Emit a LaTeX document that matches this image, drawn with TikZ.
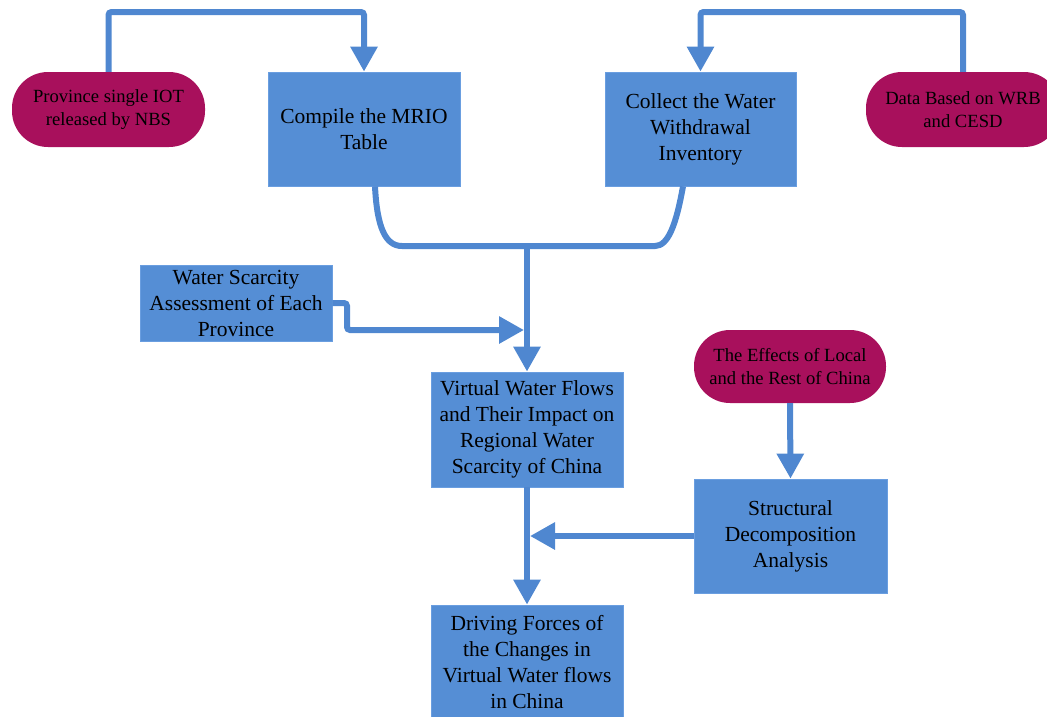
\documentclass[tikz,border=0pt]{standalone}
\usepackage{fontspec}
\setmainfont{Liberation Serif}
\usetikzlibrary{arrows.meta}
\definecolor{boxblue}{HTML}{558ED5}
\definecolor{boxedge}{HTML}{6A9EE0}
\definecolor{linkblue}{HTML}{4F87D0}
\definecolor{pillred}{HTML}{A8105C}
\tikzset{
  stepbox/.style={rectangle, fill=boxblue, draw=boxedge, line width=0.8pt, align=center, inner sep=0pt,
    font=\fontsize{21.5}{26}\selectfont},
  pillbox/.style={rectangle, rounded corners=36pt, fill=pillred, draw=none, align=center, inner sep=0pt,
    font=\fontsize{18.6}{23}\selectfont},
  conn/.style={draw=linkblue, line width=6pt, rounded corners=3pt},
  arr/.style={conn, -{Triangle[length=25pt,width=26pt]}},
}
\begin{document}
\begin{tikzpicture}[x=1pt,y=-1pt]
\useasboundingbox (0,0) rectangle (1047,716);

% nodes
\node[pillbox, minimum width=193pt, minimum height=75pt] (prov) at (108.5,109.5) {Province single IOT\\released by NBS};
\node[stepbox, minimum width=192pt, minimum height=114pt] (mrio) at (364,129) {Compile the MRIO\\Table};
\node[stepbox, minimum width=191pt, minimum height=114pt] (coll) at (700.5,129) {Collect the Water\\Withdrawal\\Inventory};
\node[pillbox, minimum width=194pt, minimum height=75pt] (data) at (963,109.5) {Data Based on WRB\\and CESD};
\node[stepbox, minimum width=192pt, minimum height=76pt] (scar) at (236,303) {Water Scarcity\\Assessment of Each\\Province};
\node[stepbox, minimum width=192pt, minimum height=115pt] (virt) at (527,429.5) {Virtual Water Flows\\and Their Impact on\\Regional Water\\Scarcity of China};
\node[pillbox, minimum width=192pt, minimum height=73pt] (eff) at (790,366.5) {The Effects of Local\\and the Rest of China};
\node[stepbox, minimum width=193pt, minimum height=114pt] (sda) at (790.5,536) {Structural\\Decomposition\\Analysis};
\node[stepbox, minimum width=192pt, minimum height=114pt] (drive) at (527,662) {Driving Forces of\\the Changes in\\Virtual Water flows\\in China};

% helper coordinates
\coordinate (t1) at (240,12);
\coordinate (t2) at (830,12);
\coordinate (ml) at (405,246);
\coordinate (mr) at (652,246);
\coordinate (m) at (527,246);
\coordinate (s1) at (347,330);
\coordinate (s2) at (524,330);
\coordinate (j) at (530,536);

% connectors
\draw[arr] (prov.north) |- (t1) -| (mrio.north);
\draw[arr] (data.north) |- (t2) -| (coll.north);
\draw[conn] ([xshift=11pt]mrio.south) .. controls +(2,40) and +(-20,0) .. (ml) -- (mr)
  .. controls +(16,0) and +(-7,39) .. ([xshift=-17.5pt]coll.south);
\draw[arr] (m) -- (virt.north);
\draw[arr] (scar.east) -| (s1) -- (s2);
\draw[arr] (eff.south) -- (sda.north);
\draw[arr] (sda.west) -- (j);
\draw[arr] (virt.south) -- (drive.north);
\end{tikzpicture}
\end{document}
